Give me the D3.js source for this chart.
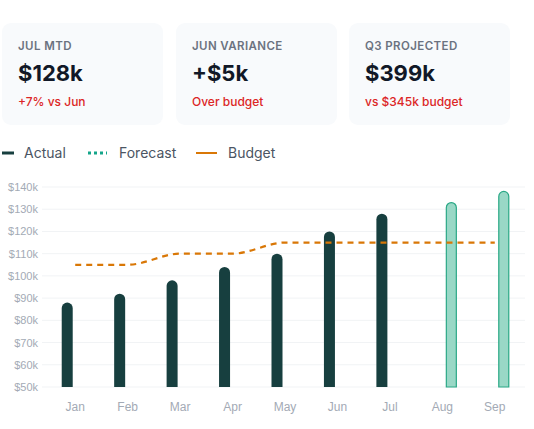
<!DOCTYPE html><html><head><meta charset="utf-8"><script src="https://cdn.jsdelivr.net/npm/d3@7"></script>
<style>body{margin:0;background:#fff;font-family:Inter,sans-serif}</style></head><body><svg id="c" width="534" height="429"></svg>
<script>
const months=["Jan","Feb","Mar","Apr","May","Jun","Jul","Aug","Sep"];
const actual=[88,92,98,104,110,120,128,null,null];
const forecast=[null,null,null,null,null,null,null,133,138];
const budget=[105,105,110,110,115,115,115,115,115];
const yTicks=[50,60,70,80,90,100,110,120,130,140];
const cards=[{t:"JUL MTD",v:"$128k",s:"+7% vs Jun"},{t:"JUN VARIANCE",v:"+$5k",s:"Over budget"},{t:"Q3 PROJECTED",v:"$399k",s:"vs $345k budget"}];
const svg=d3.select("#c");
const cx=[2,176,349];
cards.forEach((c,i)=>{const g=svg.append("g").attr("transform",`translate(${cx[i]},23)`);
g.append("rect").attr("width",161).attr("height",102).attr("rx",9).attr("fill","#f8fafc");
g.append("text").attr("x",16).attr("y",27).attr("font-size",11.5).attr("font-weight",600).attr("fill","#6b7280").attr("letter-spacing",0.4).text(c.t);
g.append("text").attr("x",16).attr("y",58).attr("font-size",22).attr("font-weight",700).attr("fill","#111827").text(c.v);
g.append("text").attr("x",16).attr("y",83).attr("font-size",12).attr("font-weight",500).attr("fill","#dc2626").text(c.s);});
// legend
const lg=svg.append("g").attr("font-size",14).attr("fill","#4b5563");
lg.append("line").attr("x1",2).attr("x2",14).attr("y1",153).attr("y2",153).attr("stroke","#173f3f").attr("stroke-width",3);
lg.append("text").attr("x",24).attr("y",158).text("Actual");
lg.append("line").attr("x1",88).attr("x2",107).attr("y1",153).attr("y2",153).attr("stroke","#14a58a").attr("stroke-width",3).attr("stroke-dasharray","3,3");
lg.append("text").attr("x",119).attr("y",158).text("Forecast");
lg.append("line").attr("x1",196).attr("x2",217).attr("y1",153).attr("y2",153).attr("stroke","#d97706").attr("stroke-width",2);
lg.append("text").attr("x",228).attr("y",158).text("Budget");
const x=d3.scaleBand().domain(months).range([49,521]);
const y=d3.scaleLinear().domain([50,140]).range([387,187]);
const gy=svg.append("g");
yTicks.forEach(t=>{gy.append("line").attr("x1",42).attr("x2",525).attr("y1",y(t)).attr("y2",y(t)).attr("stroke","#f1f3f5");
gy.append("text").attr("x",38).attr("y",y(t)+4).attr("text-anchor","end").attr("font-size",11).attr("font-family","Liberation Sans, Arial").attr("fill","#a3aab5").text("$"+t+"k");});
months.forEach(m=>svg.append("text").attr("x",x(m)+x.bandwidth()/2).attr("y",411).attr("text-anchor","middle").attr("font-size",12).attr("font-family","Liberation Sans, Arial").attr("fill","#a3aab5").text(m));
function barPath(cxv,top,w){const r=w/2,b=y(50);return `M${cxv-r},${b}V${top+r}A${r},${r} 0 0 1 ${cxv+r},${top+r}V${b}Z`;}
const w=11;
months.forEach((m,i)=>{const c=x(m)+x.bandwidth()/2;
if(actual[i]!=null)svg.append("path").attr("d",barPath(c-8,y(actual[i]),w)).attr("fill","#173f3f");
if(forecast[i]!=null)svg.append("path").attr("d",barPath(c+9,y(forecast[i]),w-1)).attr("fill","#99d8c6").attr("stroke","#2aa886").attr("stroke-width",1.2);});
const line=d3.line().x((d,i)=>x(months[i])+x.bandwidth()/2).y(d=>y(d)).curve(d3.curveMonotoneX);
svg.append("path").attr("d",line(budget)).attr("fill","none").attr("stroke","#d97706").attr("stroke-width",2.2).attr("stroke-dasharray","6,5");
</script></body></html>
